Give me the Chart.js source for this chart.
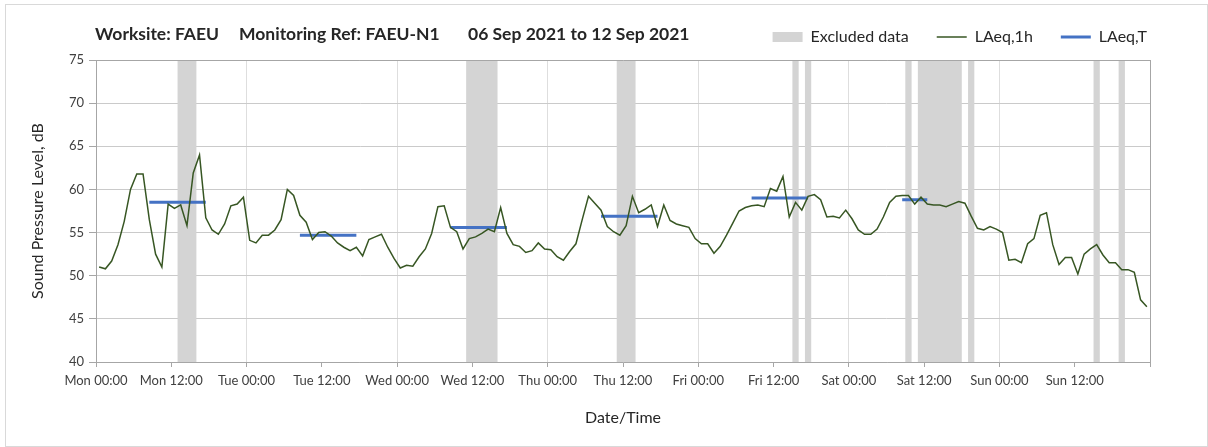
<!DOCTYPE html>
<html>
<head>
<meta charset="utf-8">
<title>FAEU-N1 noise monitoring</title>
<script src="https://cdn.jsdelivr.net/npm/chart.js@4.4.1/dist/chart.umd.min.js"></script>
<style>
    html, body { margin: 0; padding: 0; background: #fff; }
    #wrap { position: relative; width: 1208px; height: 447px; }
    #chart { position: absolute; left: 0; top: 0; }
    #frame { position: absolute; left: 5px; top: 4px; width: 1201px; height: 441px; border: 1px solid #d9d9d9; pointer-events: none; }
    .ttl { position: absolute; top: 23px; font: bold 17.5px Lato, sans-serif; line-height: 21px; color: #262626; white-space: nowrap; }
</style>
</head>
<body>
<div id="wrap">
    <canvas id="chart" width="1208" height="447"></canvas>
    <div id="frame"></div>
    <div class="ttl" style="left:95px">Worksite: FAEU</div>
    <div class="ttl" style="left:239px">Monitoring Ref: FAEU-N1</div>
    <div class="ttl" style="left:468px">06 Sep 2021 to 12 Sep 2021</div>
</div>
<script>
// Tick labels every 12 hours, starting Mon 00:00
const tickLabels = [
    'Mon 00:00', 'Mon 12:00', 'Tue 00:00', 'Tue 12:00', 'Wed 00:00', 'Wed 12:00',
    'Thu 00:00', 'Thu 12:00', 'Fri 00:00', 'Fri 12:00', 'Sat 00:00', 'Sat 12:00',
    'Sun 00:00', 'Sun 12:00'
];

// LAeq,1h - one value per hour (168 hours, Mon 00:00 -> Sun 23:00)
const hourlyLevels = [
    51.0, 50.8, 51.7, 53.6, 56.3, 60.0, 61.8, 61.8, 56.5, 52.5, 51.0, 58.3, 57.8, 58.2, 55.8, 61.9, 64.0, 56.7, 55.3, 54.8, 56.0, 58.1, 58.3, 59.1,
    54.1, 53.8, 54.7, 54.7, 55.3, 56.5, 60.0, 59.3, 57.0, 56.2, 54.2, 55.0, 55.1, 54.6, 53.8, 53.3, 52.9, 53.3, 52.3, 54.2, 54.5, 54.8, 53.3, 52.0,
    50.9, 51.2, 51.1, 52.2, 53.1, 54.9, 58.0, 58.1, 55.6, 55.1, 53.1, 54.3, 54.5, 54.9, 55.4, 55.1, 57.9, 54.9, 53.6, 53.4, 52.7, 52.9, 53.8, 53.1,
    53.0, 52.2, 51.8, 52.8, 53.7, 56.5, 59.2, 58.4, 57.6, 55.7, 55.1, 54.7, 55.8, 59.2, 57.3, 57.7, 58.2, 55.7, 58.2, 56.4, 56.0, 55.8, 55.6, 54.3,
    53.7, 53.7, 52.6, 53.4, 54.7, 56.1, 57.5, 57.9, 58.1, 58.2, 58.0, 60.1, 59.8, 61.5, 56.8, 58.5, 57.6, 59.2, 59.4, 58.8, 56.8, 56.9, 56.7, 57.6,
    56.6, 55.3, 54.8, 54.8, 55.4, 56.8, 58.5, 59.2, 59.3, 59.3, 58.3, 59.1, 58.3, 58.2, 58.2, 58.0, 58.3, 58.6, 58.4, 56.9, 55.5, 55.3, 55.7, 55.4,
    55.0, 51.8, 51.9, 51.5, 53.7, 54.3, 57.0, 57.3, 53.6, 51.3, 52.1, 52.1, 50.2, 52.5, 53.1, 53.6, 52.4, 51.5, 51.5, 50.7, 50.7, 50.4, 47.2, 46.4
];

// LAeq,T - daytime periods (hours from Mon 00:00, at hour mid-points)
const periodFrom = [8.5, 32.5, 56.5, 80.5, 104.5, 128.5];
const periodTo = [17.5, 41.5, 65.5, 89.5, 113.5, 132.5];
const periodLevels = [58.5, 54.7, 55.6, 56.9, 59.0, 58.8];

// Excluded data (hours from Mon 00:00)
const excludedFrom = [13, 59, 83, 111, 113, 129, 131, 139, 159, 163];
const excludedTo = [16, 64, 86, 112, 114, 130, 138, 140, 160, 164];

// Axis ranges
const hoursMax = 168;
const levelMin = 40;
const levelMax = 75;

// Colors
const colors = {
    hourly: '#375623',
    period: '#4472c4',
    excluded: '#d4d4d4',
    grid: '#cacaca',
    dayGrid: '#dedede',
    axis: '#a6a6a6',
    text: '#404040',
    title: '#262626'
};

const fontFamily = 'Lato, "Open Sans", sans-serif';

// Build points
const hourlyPoints = hourlyLevels.map((v, i) => ({ x: i + 0.5, y: v }));
const periodPoints = [];
periodLevels.forEach((v, i) => {
    periodPoints.push({ x: periodFrom[i], y: v });
    periodPoints.push({ x: periodTo[i], y: v });
    periodPoints.push({ x: periodTo[i], y: null });
});

// Grey bands for excluded data, placed with the chart's own scales
const excludedBands = {
    id: 'excludedBands',
    beforeDatasetsDraw(chart) {
        const { ctx, scales: { x, y } } = chart;
        const top = y.getPixelForValue(levelMax);
        const bottom = y.getPixelForValue(levelMin);
        ctx.save();
        ctx.fillStyle = colors.excluded;
        excludedFrom.forEach((from, i) => {
            const left = x.getPixelForValue(from);
            const right = x.getPixelForValue(excludedTo[i]);
            ctx.fillRect(left, top, right - left, bottom - top);
        });
        ctx.restore();
    }
};

new Chart(document.getElementById('chart'), {
    type: 'line',
    data: {
        datasets: [
            {
                label: 'LAeq,1h',
                data: hourlyPoints,
                borderColor: colors.hourly,
                borderWidth: 1.5,
                pointRadius: 0,
                tension: 0,
                xAxisID: 'x',
                yAxisID: 'y',
                order: 0
            },
            {
                label: 'LAeq,T',
                data: periodPoints,
                borderColor: colors.period,
                borderWidth: 3,
                pointRadius: 0,
                spanGaps: false,
                xAxisID: 'x',
                yAxisID: 'y',
                order: 1
            }
        ]
    },
    options: {
        responsive: false,
        animation: false,
        layout: { padding: { left: 20, right: 33, top: 1, bottom: 0 } },
        plugins: {
            tooltip: { enabled: false },
            legend: {
                position: 'top',
                align: 'end',
                labels: {
                    usePointStyle: true,
                    pointStyleWidth: 30,
                    boxHeight: 10,
                    padding: 28,
                    color: colors.title,
                    font: { family: fontFamily, size: 16 },
                    generateLabels: () => [
                        { text: 'Excluded data', fillStyle: colors.excluded, strokeStyle: colors.excluded, lineWidth: 0, pointStyle: 'rect', fontColor: colors.title },
                        { text: 'LAeq,1h', fillStyle: colors.hourly, strokeStyle: colors.hourly, lineWidth: 1.5, pointStyle: 'line', fontColor: colors.title },
                        { text: 'LAeq,T', fillStyle: colors.period, strokeStyle: colors.period, lineWidth: 3, pointStyle: 'line', fontColor: colors.title }
                    ]
                }
            }
        },
        scales: {
            x: {
                type: 'linear',
                position: 'bottom',
                min: 0,
                max: hoursMax,
                afterFit: (scale) => { scale.height = 85; },
                ticks: {
                    stepSize: 12,
                    autoSkip: false,
                    maxRotation: 0,
                    padding: 6,
                    color: colors.text,
                    font: { family: fontFamily, size: 13 },
                    callback: (value) => tickLabels[value / 12] || ''
                },
                grid: {
                    color: (ctx) => (ctx.tick && ctx.tick.value % 24 === 0) ? colors.dayGrid : 'rgba(0,0,0,0)',
                    tickColor: colors.axis,
                    tickLength: 5
                },
                border: { color: colors.axis, z: 1 },
                title: {
                    display: true,
                    text: 'Date/Time',
                    color: colors.title,
                    font: { family: fontFamily, size: 16 },
                    padding: { top: 0, bottom: 20 }
                }
            },
            y: {
                type: 'linear',
                position: 'left',
                min: levelMin,
                max: levelMax,
                afterFit: (scale) => { scale.width = 76; },
                ticks: {
                    stepSize: 5,
                    padding: 5,
                    color: colors.text,
                    font: { family: fontFamily, size: 13 }
                },
                grid: { color: colors.grid, tickColor: colors.axis, tickLength: 7 },
                border: { color: colors.axis, z: 1 },
                title: {
                    display: true,
                    text: 'Sound Pressure Level, dB',
                    color: colors.title,
                    font: { family: fontFamily, size: 16 },
                    padding: { top: 8, bottom: 0 }
                }
            },
            x2: {
                type: 'linear',
                position: 'top',
                min: 0,
                max: hoursMax,
                afterFit: (scale) => { scale.height = 5; },
                ticks: { display: false },
                grid: { display: false },
                border: { color: colors.axis, z: 1 }
            },
            y2: {
                type: 'linear',
                position: 'right',
                min: levelMin,
                max: levelMax,
                afterFit: (scale) => { scale.width = 25; },
                ticks: { display: false },
                grid: { display: false },
                border: { color: colors.axis, z: 1 }
            }
        }
    },
    plugins: [excludedBands]
});
</script>
</body>
</html>
